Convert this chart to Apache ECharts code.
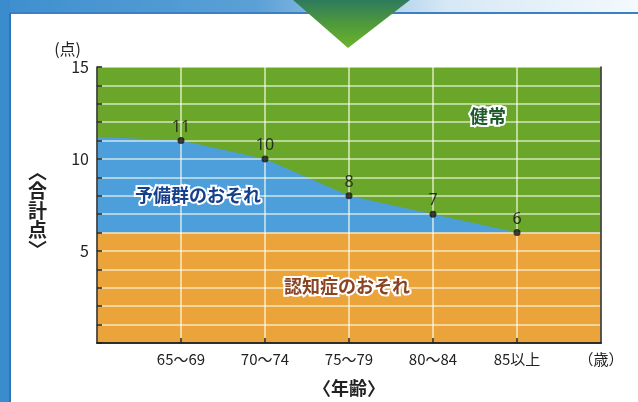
<!DOCTYPE html>
<html>
<head>
<meta charset="utf-8">
<script src="https://cdn.jsdelivr.net/npm/echarts@6/dist/echarts.min.js"></script>
<style>
  html, body { margin: 0; padding: 0; background: #fff; }
  #chart { width: 638px; height: 402px; }
</style>
</head>
<body>
<div id="chart"></div>
<script>
// Age groups on the horizontal axis and the total score at each group's cut-off
const ageGroups = ['65〜69', '70〜74', '75〜79', '80〜84', '85以上'];
const cutoffScores = [11, 10, 8, 7, 6];
const ageUnit = '（歳）';
// Cut-off line values at the left and right borders of the plot
const edgeLeft = 11.2;
const edgeRight = 6;
// Score below which dementia is suspected, and the top of the scale
const dementiaLine = 6;
const scoreTop = 15;
const yTickLabels = [5, 10, 15];

const categories = [''].concat(ageGroups, [ageUnit]);
const boundary = [edgeLeft].concat(cutoffScores, [edgeRight]);
const topFill = categories.map(() => scoreTop);
const dementiaFill = categories.map(() => dementiaLine);
const dots = ageGroups.map((g, i) => [g, cutoffScores[i]]);

const FONT = '"Noto Sans CJK JP", "Noto Sans", sans-serif';
const GREEN = '#6aa62a';
const BLUE = '#4d9fdc';
const ORANGE = '#eaa43a';
const gridLine = { color: 'rgba(255,255,240,0.72)', width: 1.6 };

const chart = echarts.init(document.getElementById('chart'), null, { renderer: 'canvas' });

const areaSeries = (name, data, color, z) => ({
  name, type: 'line', data, z,
  symbol: 'none', silent: true,
  lineStyle: { width: 0 },
  areaStyle: { color, opacity: 1, origin: 'start' }
});

chart.setOption({
  backgroundColor: '#ffffff',
  animation: false,
  textStyle: { fontFamily: FONT },
  grid: { left: 97, right: 37, top: 67, bottom: 59 },
  xAxis: [{
    type: 'category', data: categories, boundaryGap: false, z: 5,
    axisLine: { lineStyle: { color: '#222', width: 1.5 } },
    axisTick: { show: true, inside: true, length: 5, interval: (i) => i > 0 && i < categories.length - 1,
                lineStyle: { color: '#222', width: 1.5 } },
    axisLabel: { interval: 0, fontSize: 15, color: '#222', margin: 9, fontFamily: FONT },
    splitLine: { show: true, interval: 0, lineStyle: gridLine },
    name: '〈年齢〉', nameLocation: 'middle', nameGap: 36,
    nameTextStyle: { fontSize: 18, color: '#222', fontFamily: FONT, fontWeight: 'bold' }
  }, {
    type: 'category', data: categories, boundaryGap: false, position: 'top', z: 5,
    axisLine: { lineStyle: { color: '#222', width: 1.5 } },
    axisTick: { show: false }, axisLabel: { show: false }, splitLine: { show: false }
  }],
  yAxis: [{
    type: 'value', min: 0, max: scoreTop, interval: 1, z: 5,
    axisLine: { show: true, lineStyle: { color: '#222', width: 1.5 } },
    axisTick: { show: true, inside: true, length: 5, lineStyle: { color: '#222', width: 1.5 } },
    axisLabel: { fontSize: 16, color: '#222', margin: 8, fontFamily: FONT,
                 formatter: (v) => yTickLabels.indexOf(v) >= 0 ? String(v) : '' },
    splitLine: { show: true, lineStyle: gridLine },
    name: '(点)', nameLocation: 'end', nameGap: 10,
    nameTextStyle: { fontSize: 16, color: '#222', fontFamily: FONT, align: 'right', padding: [0, 16, 0, 0] }
  }, {
    type: 'value', min: 0, max: scoreTop, interval: 1, position: 'right', z: 5,
    axisLine: { show: true, lineStyle: { color: '#222', width: 1.5 } },
    axisTick: { show: false }, axisLabel: { show: false }, splitLine: { show: false }
  }],
  series: [
    areaSeries('健常', topFill, GREEN, 1),
    areaSeries('予備群のおそれ', boundary, BLUE, 2),
    areaSeries('認知症のおそれ', dementiaFill, ORANGE, 3),
    {
      name: '合計点', type: 'scatter', data: dots, z: 10,
      symbol: 'circle', symbolSize: 7,
      itemStyle: { color: '#111' },
      label: { show: true, position: 'top', distance: 2, fontSize: 16, color: '#111',
               fontFamily: 'Noto Sans', formatter: (p) => String(p.value[1]) }
    }
  ],
  graphic: [
    // frame strips along the top and left edges
    { type: 'rect', left: 0, top: 0, shape: { width: 638, height: 13 }, silent: true,
      style: { fill: new echarts.graphic.LinearGradient(0, 0, 1, 0, [
        { offset: 0, color: '#3e8fcf' }, { offset: 0.4, color: '#5aa0d6' },
        { offset: 0.7, color: '#d6e8f5' }, { offset: 1, color: '#f4f9fd' }]) } },
    { type: 'rect', left: 0, top: 12, shape: { width: 638, height: 2 }, silent: true,
      style: { fill: '#3d7fc6' } },
    { type: 'rect', left: 0, top: 0, shape: { width: 10, height: 402 }, silent: true,
      style: { fill: '#3b8ccc' } },
    { type: 'rect', left: 9, top: 13, shape: { width: 2, height: 389 }, silent: true,
      style: { fill: '#2f74b8' } },
    // pointer triangle hanging from the header
    { type: 'polygon', silent: true,
      shape: { points: [[293, 0], [410, 0], [348, 48]] },
      style: { fill: new echarts.graphic.LinearGradient(0, 0, 0, 1, [
        { offset: 0, color: '#2e7a5e' }, { offset: 0.5, color: '#4f9a3a' }, { offset: 1, color: '#6db42c' }]) } },
    // vertical axis title
    { type: 'text', left: 28, top: 162, silent: true,
      style: { text: '︿\n合\n計\n点\n﹀', font: 'bold 19px ' + FONT, fill: '#222', lineHeight: 19.5, align: 'center' } },
    // region labels
    { type: 'text', left: 468, top: 105, z: 20, silent: true,
      style: { text: '健常', font: 'bold 18px ' + FONT, fill: '#1d5a2c', stroke: '#fff', lineWidth: 4 } },
    { type: 'text', left: 133, top: 184, z: 20, silent: true,
      style: { text: '予備群のおそれ', font: 'bold 18px ' + FONT, fill: '#17408c', stroke: '#fff', lineWidth: 4 } },
    { type: 'text', left: 282, top: 275, z: 20, silent: true,
      style: { text: '認知症のおそれ', font: 'bold 18px ' + FONT, fill: '#8a4422', stroke: '#fff', lineWidth: 4 } }
  ]
});
</script>
</body>
</html>
